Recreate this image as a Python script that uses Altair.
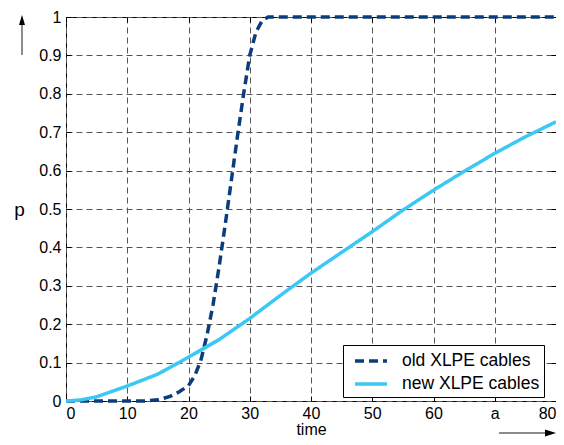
import altair as alt
import pandas as pd

# ---- data ----
series = ["old XLPE cables", "new XLPE cables"]
old_t = [0, 5, 10, 13, 15, 17, 18.5, 20, 21, 22, 23, 24, 25, 26, 27, 28, 29, 30, 31, 32, 33, 35, 40, 50, 60, 70, 80]
old_p = [0, 0, 0, 0, 0.003, 0.012, 0.024, 0.04, 0.065, 0.105, 0.17, 0.25, 0.35, 0.46, 0.575, 0.69, 0.8, 0.9,
         0.96, 0.99, 1, 1, 1, 1, 1, 1, 1]
new_t = [0, 2.5, 5, 10, 15, 20, 25, 30, 35, 40, 45, 50, 55, 60, 65, 70, 75, 80]
new_p = [0, 0.003, 0.011, 0.039, 0.07, 0.114, 0.16, 0.215, 0.275, 0.333, 0.387, 0.441, 0.497, 0.549, 0.598,
         0.645, 0.688, 0.727]
x_ticks = [0, 10, 20, 30, 40, 50, 60, 70, 80]
y_ticks = [0, 0.1, 0.2, 0.3, 0.4, 0.5, 0.6, 0.7, 0.8, 0.9, 1]
x_title = "time"
y_title = "p"

OLD_COL = "#0B3D7D"
NEW_COL = "#3CC8F5"
FONT = "Liberation Sans"

df = pd.DataFrame(
    {"t": old_t + new_t, "p": old_p + new_p,
     "series": [series[0]] * len(old_t) + [series[1]] * len(new_t)}
)

xscale = alt.Scale(domain=[0, 80], nice=False, zero=False)
yscale = alt.Scale(domain=[0, 1], nice=False, zero=False)

leg = alt.Legend(
    title=None, orient="none", legendX=277, legendY=328,
    strokeColor="black", fillColor="white", padding=4, cornerRadius=0,
    labelFontSize=17.5, labelFont=FONT, labelColor="black",
    labelExpr="datum.label + '    '",
    symbolType="M-1.6,0L1.6,0", symbolSize=400, symbolStrokeWidth=3.5,
    labelOffset=19, rowPadding=2, symbolOffset=12,
)

lines = alt.Chart(df).mark_line(strokeWidth=3.5).encode(
    x=alt.X("t:Q", scale=xscale, axis=alt.Axis(
        orient="bottom", values=x_ticks, offset=-5, tickSize=5, domain=False,
        grid=True, gridDash=[6, 4], gridColor="#555555", gridWidth=1,
        labelExpr="datum.value == 70 ? 'a' : datum.label", labelPadding=4,
        title=x_title, titlePadding=0, titleFontSize=16)),
    y=alt.Y("p:Q", scale=yscale, axis=alt.Axis(
        orient="left", values=y_ticks, format="~g", offset=-5, tickSize=5, domain=False,
        grid=True, gridDash=[6, 4], gridColor="#555555", gridWidth=1,
        labelPadding=5, title=y_title, titleAngle=0, titleFontSize=19,
        titleX=-52, titleY=192, titleAlign="center", titleBaseline="middle")),
    color=alt.Color("series:N", scale=alt.Scale(domain=series, range=[OLD_COL, NEW_COL]), legend=leg),
    strokeDash=alt.StrokeDash("series:N", scale=alt.Scale(domain=series, range=[[9, 5], [1, 0]]), legend=leg),
)

frame_axes = alt.Chart(df).mark_line(opacity=0).encode(
    x=alt.X("t:Q", scale=xscale, axis=alt.Axis(
        orient="top", values=x_ticks, offset=-5, tickSize=5, domain=False,
        labels=False, grid=False, title=None)),
    y=alt.Y("p:Q", scale=yscale, axis=alt.Axis(
        orient="right", values=y_ticks, offset=-5, tickSize=5, domain=False,
        labels=False, grid=False, title=None)),
)

one = pd.DataFrame({"k": [0]})
up_line = alt.Chart(one).mark_rule(color="#666666", strokeWidth=1.5).encode(
    x=alt.value(-44), y=alt.value(8), y2=alt.value(38))
up_head = alt.Chart(one).mark_point(shape="M0,-1L0.6,1L-0.6,1Z", filled=True, color="black",
                                    opacity=1, size=100).encode(x=alt.value(-44), y=alt.value(3))
rt_line = alt.Chart(one).mark_rule(color="#666666", strokeWidth=1.5).encode(
    x=alt.value(433), x2=alt.value(480), y=alt.value(416))
rt_head = alt.Chart(one).mark_point(shape="M1,0L-1,-0.65L-1,0.65Z", filled=True, color="black",
                                    opacity=1, size=121).encode(x=alt.value(484.5), y=alt.value(416))

chart = alt.layer(lines, frame_axes, up_line, up_head, rt_line, rt_head).resolve_axis(
    x="independent", y="independent"
).properties(
    width=490, height=384,
    autosize=alt.AutoSizeParams(type="none"),
    padding={"left": 58, "top": 9, "right": 0, "bottom": 36},
).configure_view(
    stroke="black", strokeWidth=1
).configure_axis(
    labelFont=FONT, titleFont=FONT, labelFontSize=16, labelColor="black", titleColor="black",
    tickColor="black", tickWidth=1, titleFontWeight="normal",
)

chart.save("out.html", embed_options={"renderer": "svg", "actions": False})
